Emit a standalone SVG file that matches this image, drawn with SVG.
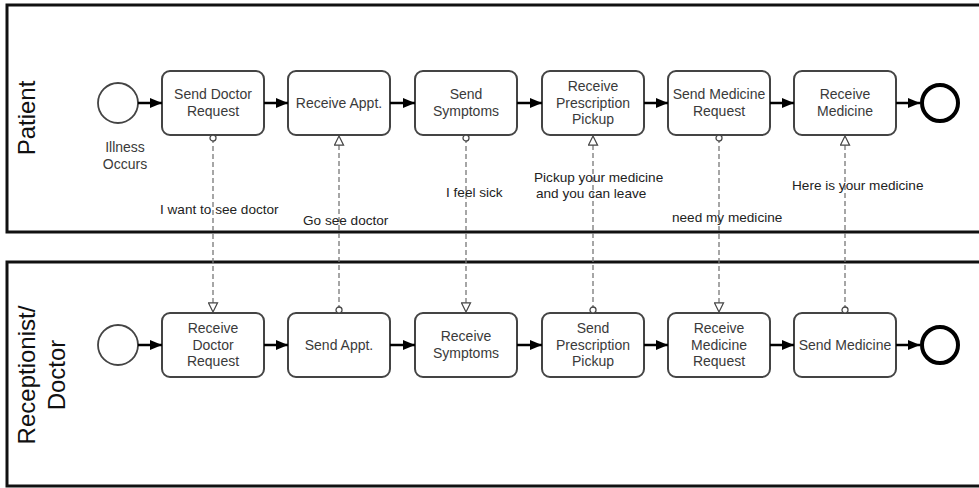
<svg xmlns="http://www.w3.org/2000/svg" width="979" height="488" viewBox="0 0 979 488">
  <defs>
    <marker id="seq" viewBox="0 0 12 10" refX="12" refY="5" markerWidth="12" markerHeight="10" markerUnits="userSpaceOnUse" orient="auto">
      <path d="M0,0 L12,5 L0,10 z" fill="#000"/>
    </marker>
    <marker id="msgEnd" viewBox="0 0 12 12" refX="11" refY="6" markerWidth="11" markerHeight="11" markerUnits="userSpaceOnUse" orient="auto">
      <path d="M1,1 L11,6 L1,11 z" fill="#fff" stroke="#444" stroke-width="1.3"/>
    </marker>
    <marker id="msgStart" viewBox="0 0 8 8" refX="4" refY="4" markerWidth="8" markerHeight="8" markerUnits="userSpaceOnUse">
      <circle cx="4" cy="4" r="3" fill="#fff" stroke="#444" stroke-width="1.3"/>
    </marker>
  </defs>
  <style>
    .pool { fill: #fff; stroke: #111; stroke-width: 3; }
    .task { fill: #fff; stroke: #444; stroke-width: 2; }
    .start { fill: #fff; stroke: #444; stroke-width: 1.8; }
    .end { fill: #fff; stroke: #000; stroke-width: 4; }
    .t { font-family: "Liberation Sans", Arial, sans-serif; font-size: 14px; fill: #3a3a3a; text-anchor: middle; }
    .lbl { font-family: "Liberation Sans", Arial, sans-serif; font-size: 13.6px; fill: #222; }
    .pt { font-family: "Liberation Sans", Arial, sans-serif; font-size: 24px; fill: #111; text-anchor: middle; }
    .seq { stroke: #000; stroke-width: 2.5; fill: none; marker-end: url(#seq); }
    .msg { stroke: #777; stroke-width: 1.3; stroke-dasharray: 5 3; fill: none; marker-start: url(#msgStart); marker-end: url(#msgEnd); }
  </style>
  <rect width="979" height="488" fill="#fff"/>

  <!-- pools -->
  <g id="pool-patient">
    <rect class="pool" x="7" y="5" width="985" height="227"/>
    <text class="pt" transform="translate(35,118) rotate(-90)">Patient</text>
  </g>
  <g id="pool-receptionist">
    <rect class="pool" x="7" y="262" width="985" height="224"/>
    <text class="pt" transform="translate(35,375) rotate(-90)"><tspan x="0" y="0">Receptionist/</tspan><tspan x="0" y="30">Doctor</tspan></text>
  </g>

  <!-- patient lane -->
  <g id="p-start">
    <circle class="start" cx="118" cy="103" r="20"/>
    <text class="t" x="125" y="152">Illness</text>
    <text class="t" x="125" y="169">Occurs</text>
  </g>
  <g id="p-send-doctor-request">
    <rect class="task" x="162" y="71" width="102" height="64" rx="8"/>
    <text class="t" x="213" y="99">Send Doctor</text>
    <text class="t" x="213" y="116">Request</text>
  </g>
  <g id="p-receive-appt">
    <rect class="task" x="288" y="71" width="102" height="64" rx="8"/>
    <text class="t" x="339" y="108">Receive Appt.</text>
  </g>
  <g id="p-send-symptoms">
    <rect class="task" x="415" y="71" width="102" height="64" rx="8"/>
    <text class="t" x="466" y="99">Send</text>
    <text class="t" x="466" y="116">Symptoms</text>
  </g>
  <g id="p-receive-prescription">
    <rect class="task" x="542" y="71" width="102" height="64" rx="8"/>
    <text class="t" x="593" y="91">Receive</text>
    <text class="t" x="593" y="107.5">Prescription</text>
    <text class="t" x="593" y="124">Pickup</text>
  </g>
  <g id="p-send-medicine-request">
    <rect class="task" x="668" y="71" width="102" height="64" rx="8"/>
    <text class="t" x="719" y="99">Send Medicine</text>
    <text class="t" x="719" y="116">Request</text>
  </g>
  <g id="p-receive-medicine">
    <rect class="task" x="794" y="71" width="102" height="64" rx="8"/>
    <text class="t" x="845" y="99">Receive</text>
    <text class="t" x="845" y="116">Medicine</text>
  </g>
  <g id="p-end">
    <circle class="end" cx="940" cy="103" r="18"/>
  </g>

  <!-- receptionist / doctor lane -->
  <g id="r-start">
    <circle class="start" cx="118" cy="345" r="20"/>
  </g>
  <g id="r-receive-doctor-request">
    <rect class="task" x="162" y="313" width="102" height="64" rx="8"/>
    <text class="t" x="213" y="333">Receive</text>
    <text class="t" x="213" y="349.5">Doctor</text>
    <text class="t" x="213" y="366">Request</text>
  </g>
  <g id="r-send-appt">
    <rect class="task" x="288" y="313" width="102" height="64" rx="8"/>
    <text class="t" x="339" y="350">Send Appt.</text>
  </g>
  <g id="r-receive-symptoms">
    <rect class="task" x="415" y="313" width="102" height="64" rx="8"/>
    <text class="t" x="466" y="341">Receive</text>
    <text class="t" x="466" y="358">Symptoms</text>
  </g>
  <g id="r-send-prescription">
    <rect class="task" x="542" y="313" width="102" height="64" rx="8"/>
    <text class="t" x="593" y="333">Send</text>
    <text class="t" x="593" y="349.5">Prescription</text>
    <text class="t" x="593" y="366">Pickup</text>
  </g>
  <g id="r-receive-medicine-request">
    <rect class="task" x="668" y="313" width="102" height="64" rx="8"/>
    <text class="t" x="719" y="333">Receive</text>
    <text class="t" x="719" y="349.5">Medicine</text>
    <text class="t" x="719" y="366">Request</text>
  </g>
  <g id="r-send-medicine">
    <rect class="task" x="794" y="313" width="102" height="64" rx="8"/>
    <text class="t" x="845" y="350">Send Medicine</text>
  </g>
  <g id="r-end">
    <circle class="end" cx="940" cy="345" r="18"/>
  </g>

  <!-- connectors -->
  <g id="connectors">
    <!-- sequence flows, patient -->
    <line class="seq" x1="138" y1="103" x2="162" y2="103"/>
    <line class="seq" x1="264" y1="103" x2="288" y2="103"/>
    <line class="seq" x1="390" y1="103" x2="415" y2="103"/>
    <line class="seq" x1="517" y1="103" x2="542" y2="103"/>
    <line class="seq" x1="644" y1="103" x2="668" y2="103"/>
    <line class="seq" x1="770" y1="103" x2="794" y2="103"/>
    <line class="seq" x1="896" y1="103" x2="920" y2="103"/>
    <!-- sequence flows, receptionist / doctor -->
    <line class="seq" x1="138" y1="345" x2="162" y2="345"/>
    <line class="seq" x1="264" y1="345" x2="288" y2="345"/>
    <line class="seq" x1="390" y1="345" x2="415" y2="345"/>
    <line class="seq" x1="517" y1="345" x2="542" y2="345"/>
    <line class="seq" x1="644" y1="345" x2="668" y2="345"/>
    <line class="seq" x1="770" y1="345" x2="794" y2="345"/>
    <line class="seq" x1="896" y1="345" x2="920" y2="345"/>
    <!-- message flows -->
    <line class="msg" x1="213" y1="138" x2="213" y2="312"/>
    <line class="msg" x1="339" y1="310" x2="339" y2="136"/>
    <line class="msg" x1="466" y1="138" x2="466" y2="312"/>
    <line class="msg" x1="593" y1="310" x2="593" y2="136"/>
    <line class="msg" x1="719" y1="138" x2="719" y2="312"/>
    <line class="msg" x1="845" y1="310" x2="845" y2="136"/>
    <!-- message labels -->
    <text class="lbl" x="160" y="214">I want to see doctor</text>
    <text class="lbl" x="303" y="225">Go see doctor</text>
    <text class="lbl" x="446" y="197">I feel sick</text>
    <text class="lbl" x="534" y="182">Pickup your medicine</text>
    <text class="lbl" x="536" y="198">and you can leave</text>
    <text class="lbl" x="672" y="222">need my medicine</text>
    <text class="lbl" x="792" y="190">Here is your medicine</text>
  </g>
</svg>
